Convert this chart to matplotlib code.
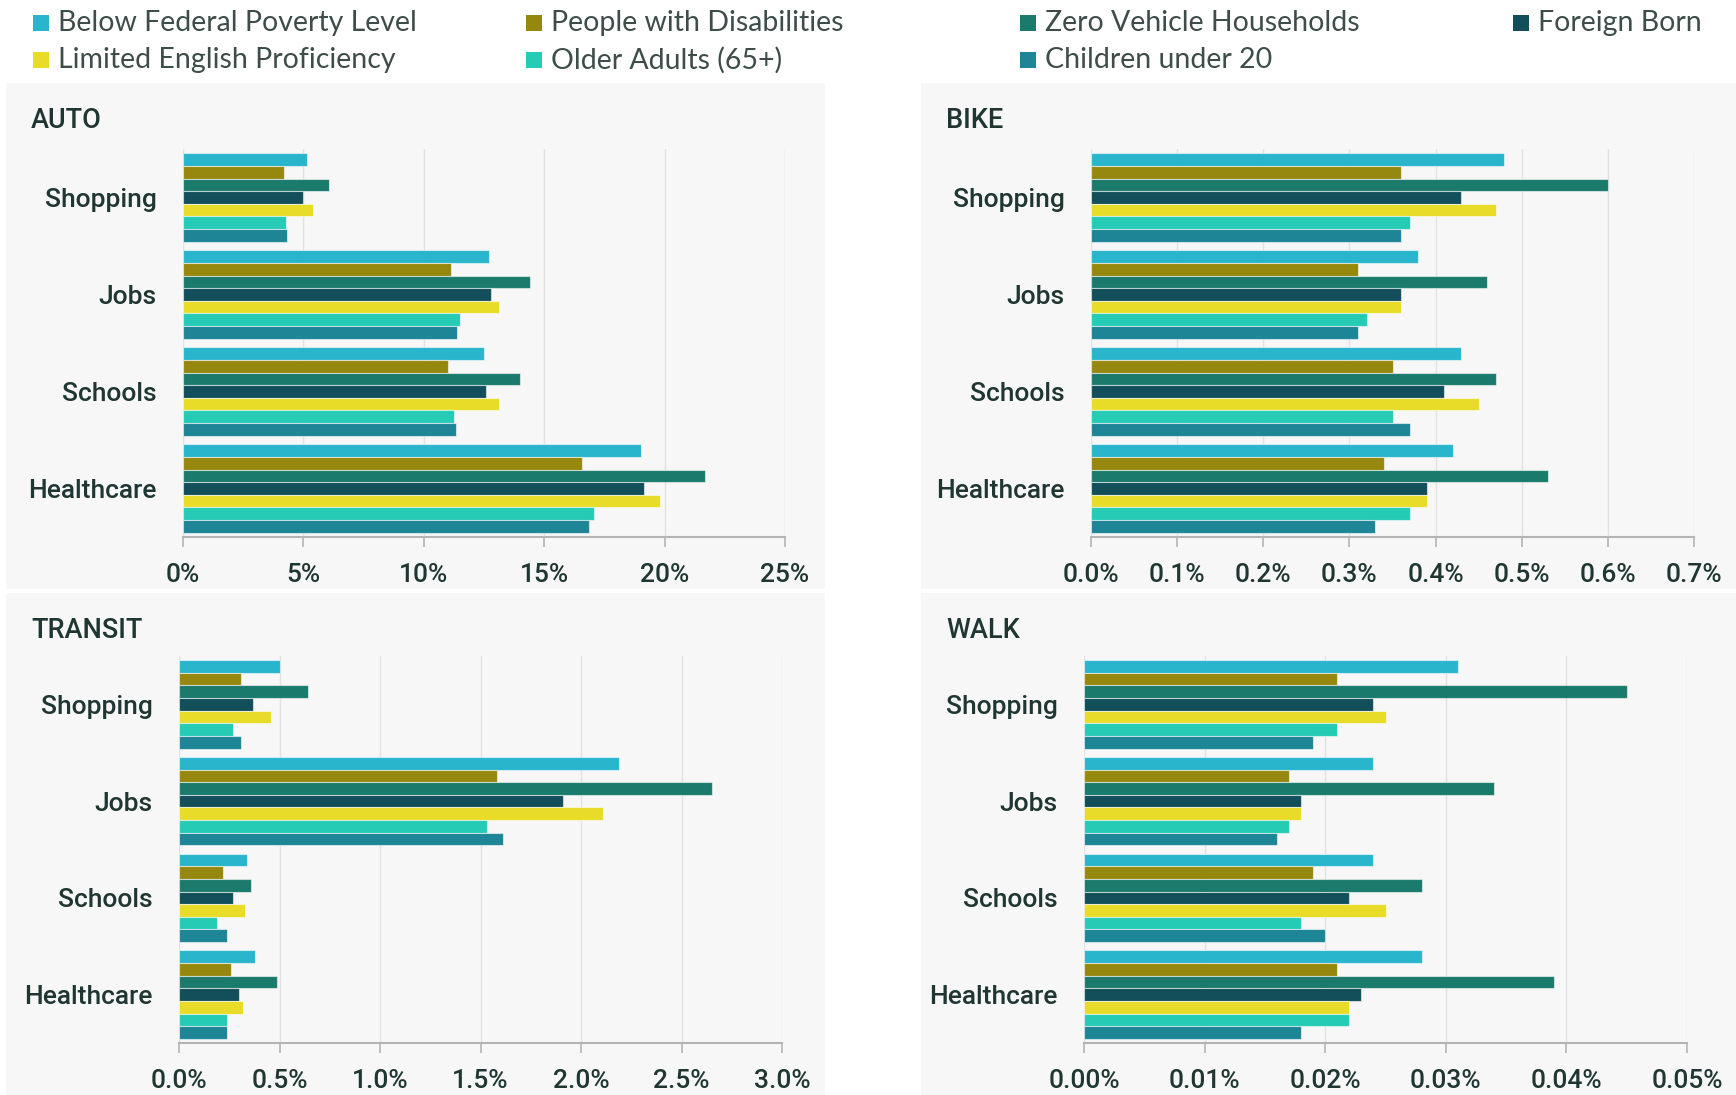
import numpy as np
import matplotlib
matplotlib.use("Agg")
import matplotlib.pyplot as plt
from matplotlib.patches import Rectangle
from matplotlib.ticker import FuncFormatter, MultipleLocator

W, H = 1736, 1095

categories = ["Shopping", "Jobs", "Schools", "Healthcare"]
groups = ["Below Federal Poverty Level", "People with Disabilities",
          "Zero Vehicle Households", "Foreign Born",
          "Limited English Proficiency", "Older Adults (65+)",
          "Children under 20"]
colors = ["#29b5cc", "#96880f", "#1a7a6c", "#134f5a",
          "#e8dc28", "#26cbb5", "#1e8596"]

# values in percent, one row per category, one column per group
auto = [[5.16, 4.21, 6.08, 4.98, 5.38, 4.28, 4.32],
        [12.71, 11.13, 14.40, 12.80, 13.13, 11.50, 11.39],
        [12.51, 11.02, 13.98, 12.60, 13.13, 11.24, 11.35],
        [19.01, 16.55, 21.66, 19.16, 19.82, 17.08, 16.86]]
bike = [[0.48, 0.36, 0.60, 0.43, 0.47, 0.37, 0.36],
        [0.38, 0.31, 0.46, 0.36, 0.36, 0.32, 0.31],
        [0.43, 0.35, 0.47, 0.41, 0.45, 0.35, 0.37],
        [0.42, 0.34, 0.53, 0.39, 0.39, 0.37, 0.33]]
transit = [[0.50, 0.31, 0.64, 0.37, 0.46, 0.27, 0.31],
           [2.19, 1.58, 2.65, 1.91, 2.11, 1.53, 1.61],
           [0.34, 0.22, 0.36, 0.27, 0.33, 0.19, 0.24],
           [0.38, 0.26, 0.49, 0.30, 0.32, 0.24, 0.24]]
walk = [[0.031, 0.021, 0.045, 0.024, 0.025, 0.021, 0.019],
        [0.024, 0.017, 0.034, 0.018, 0.018, 0.017, 0.016],
        [0.024, 0.019, 0.028, 0.022, 0.025, 0.018, 0.020],
        [0.028, 0.021, 0.039, 0.023, 0.022, 0.022, 0.018]]

panels = [
    # title, data, xmax, step, fmt, panel box (px), axes box (px)
    ("AUTO", auto, 25, 5, "{:.0f}%", (6, 83, 825, 589), (183, 149, 785, 537)),
    ("BIKE", bike, 0.7, 0.1, "{:.1f}%", (921, 83, 1736, 589), (1091, 149, 1694, 537)),
    ("TRANSIT", transit, 3.0, 0.5, "{:.1f}%", (6, 593, 825, 1095), (179, 656, 782, 1043)),
    ("WALK", walk, 0.05, 0.01, "{:.2f}%", (921, 593, 1736, 1095), (1084, 656, 1687, 1043)),
]

txt_color = "#1f3632"
label_font = "Roboto"

fig = plt.figure(figsize=(W / 100, H / 100), dpi=100)
fig.patch.set_facecolor("white")


def fx(px):
    return px / W


def fy(py):
    return 1 - py / H


for title, data, xmax, step, fmt, pbox, abox in panels:
    x0, y0, x1, y1 = pbox
    fig.patches.append(Rectangle((fx(x0), fy(y1)), fx(x1 - x0), (y1 - y0) / H,
                                 transform=fig.transFigure, facecolor="#f7f7f7",
                                 edgecolor="none", zorder=-5))
    fig.text(fx(x0 + 25), fy(pbox[1] + 37), title, fontsize=19.5, family=label_font,
             weight="medium", color=txt_color, va="center", ha="left")

    l, t, r, b = abox
    ax = fig.add_axes([fx(l), fy(b), fx(r - l), (b - t) / H])
    ax.set_facecolor("none")
    vals = np.array(data)
    n = len(groups)
    h = 0.913 / n
    y = np.arange(len(categories))
    for i in range(n):
        ax.barh(y - 0.4565 + h * (i + 0.5), vals[:, i], height=h, color=colors[i],
                edgecolor=(1, 1, 1, 0.55), linewidth=0.8, zorder=3)
    ax.set_ylim(3.5, -0.5)
    ax.set_xlim(0, xmax)
    ax.xaxis.set_major_locator(MultipleLocator(step))
    ax.xaxis.set_major_formatter(FuncFormatter(lambda v, p, f=fmt: f.format(v)))
    ax.set_yticks(y)
    ax.set_yticklabels(categories)
    ax.grid(axis="x", color="#e2e2e2", linewidth=1.0, zorder=0)
    for s in ["top", "right", "left"]:
        ax.spines[s].set_visible(False)
    ax.spines["bottom"].set_color("#b4b4b4")
    ax.spines["bottom"].set_linewidth(1.5)
    ax.tick_params(axis="x", length=7, width=1.2, color="#b4b4b4", pad=12,
                   labelsize=19, labelcolor=txt_color)
    ax.tick_params(axis="y", length=0, pad=19, labelsize=19, labelcolor=txt_color)
    for lab in ax.get_xticklabels() + ax.get_yticklabels():
        lab.set_family(label_font)
        lab.set_weight("medium")

# legend drawn manually in two rows
leg_cols = [33, 526, 1020, 1513]
leg_rows = [23, 60]
leg_order = [(0, 0), (0, 1), (0, 2), (0, 3), (1, 0), (1, 1), (1, 2)]
for (row, col), name, c in zip(leg_order, groups, colors):
    xp, yp = leg_cols[col], leg_rows[row]
    fig.patches.append(Rectangle((fx(xp), fy(yp + 8)), fx(16), 16 / H,
                                 transform=fig.transFigure, facecolor=c,
                                 edgecolor="none"))
    fig.text(fx(xp + 25), fy(yp), name, fontsize=20.5, family="Lato",
             color="#3e4d4a", va="center", ha="left")

fig.savefig("out.png", dpi=100)
